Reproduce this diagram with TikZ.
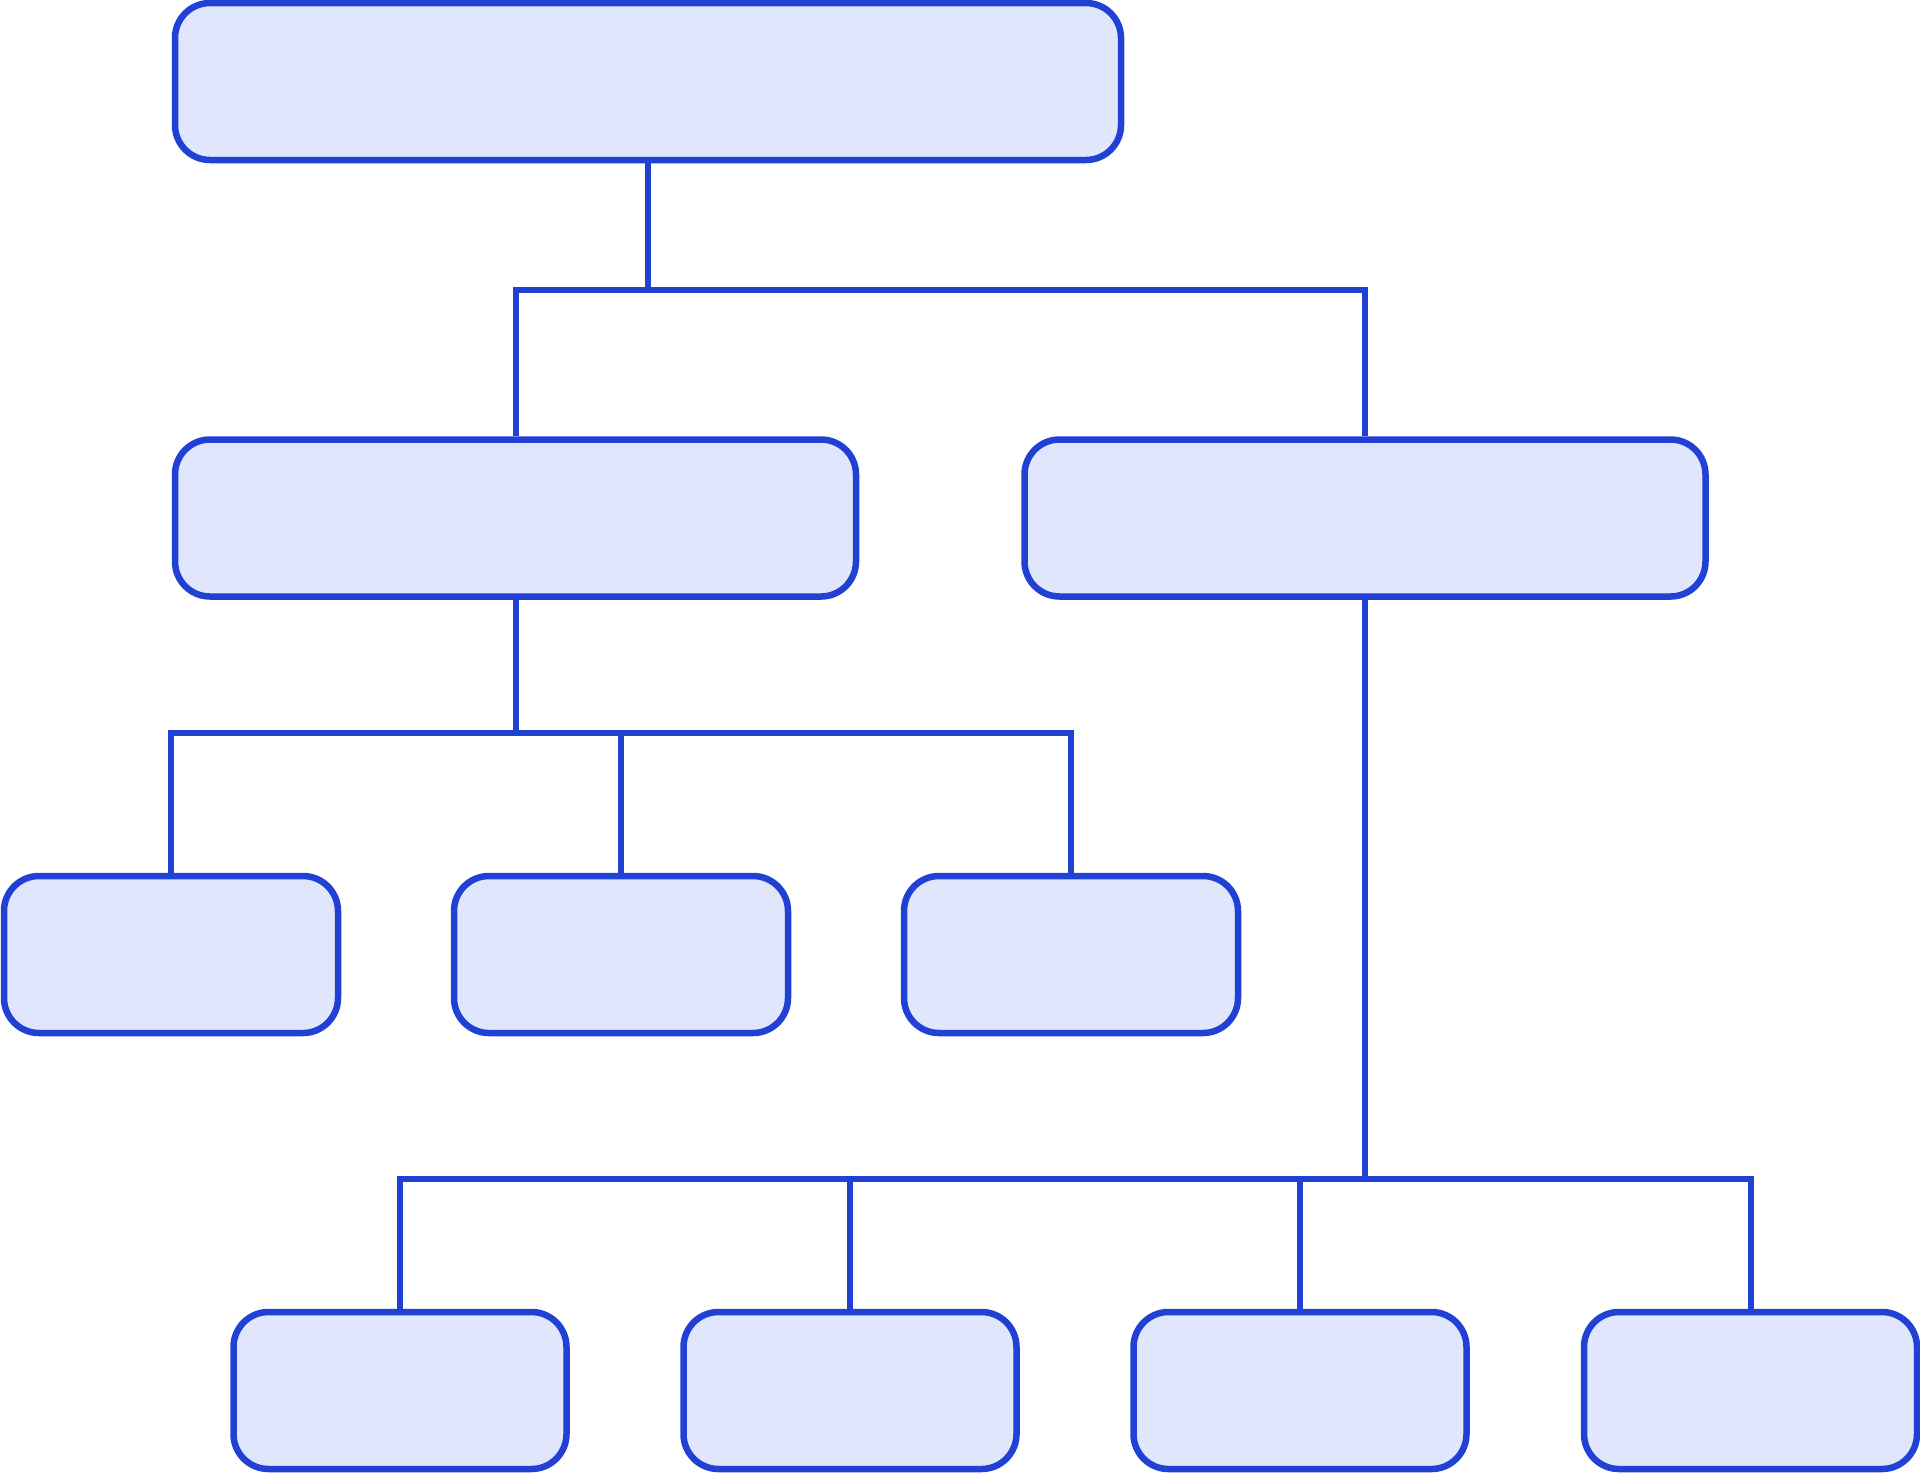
\documentclass[tikz,border=0pt]{standalone}
\definecolor{edgeblue}{RGB}{33,64,212}
\definecolor{boxfill}{RGB}{224,230,252}
\begin{document}
\begin{tikzpicture}[x=1pt,y=-1pt,
  orgbox/.style={draw=edgeblue, fill=boxfill, line width=6.5pt, rounded corners=35pt, inner sep=0pt, minimum height=157pt},
  conn/.style={draw=edgeblue, line width=6pt}]
\useasboundingbox (0,0) rectangle (1920,1473);
% boxes
\node[orgbox, minimum width=946pt] (top) at (648,81.5) {};
\node[orgbox, minimum width=681pt] (ml) at (515.5,518) {};
\node[orgbox, minimum width=681pt] (mr) at (1365,518) {};
\node[orgbox, minimum width=334pt] (c1) at (171,954.5) {};
\node[orgbox, minimum width=334pt] (c2) at (621,954.5) {};
\node[orgbox, minimum width=334pt] (c3) at (1071,954.5) {};
\node[orgbox, minimum width=333pt] (d1) at (400,1390.5) {};
\node[orgbox, minimum width=333pt] (d2) at (850,1390.5) {};
\node[orgbox, minimum width=333pt] (d3) at (1300,1390.5) {};
\node[orgbox, minimum width=333pt] (d4) at (1750.5,1390.5) {};
% bus coordinates
\coordinate (bus1) at (648,290);
\coordinate (bus2) at (515.5,733);
\coordinate (bus3) at (1365,1179);
% connectors
\draw[conn] (top.south) -- (bus1);
\draw[conn] (ml.north) |- (bus1) -| (mr.north);
\draw[conn] (ml.south) -- (bus2);
\draw[conn] (c1.north) |- (bus2) -| (c3.north);
\draw[conn] (c2.north) -- (c2.north |- bus2);
\draw[conn] (mr.south) -- (bus3);
\draw[conn] (d1.north) |- (bus3) -| (d4.north);
\draw[conn] (d2.north) -- (d2.north |- bus3);
\draw[conn] (d3.north) -- (d3.north |- bus3);
\end{tikzpicture}
\end{document}
